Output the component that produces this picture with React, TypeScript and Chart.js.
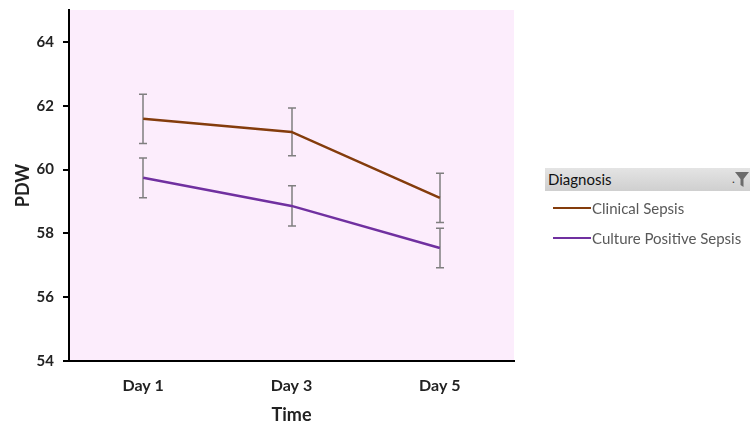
import React, { useEffect, useRef } from "react";
import { Chart, registerables } from "chart.js";

Chart.register(...registerables);

const categories = ["Day 1", "Day 3", "Day 5"];
const clinicalMean = [61.59, 61.18, 59.11];
const clinicalErr = [0.77, 0.75, 0.77];
const cultureMean = [59.74, 58.86, 57.54];
const cultureErr = [0.62, 0.63, 0.62];
const seriesNames = ["Clinical Sepsis", "Culture Positive Sepsis"];
const seriesColors = ["#843C0C", "#7030A0"];
const yTicks = [54, 56, 58, 60, 62, 64];

const FONT = "Lato, 'Open Sans', sans-serif";

export default function App() {
  const ref = useRef<HTMLCanvasElement | null>(null);

  useEffect(() => {
    if (!ref.current) return;
    const bgPlugin = {
      id: "bg",
      beforeDraw(chart: any) {
        const { ctx, chartArea } = chart;
        ctx.save();
        ctx.fillStyle = "#FCEDFC";
        ctx.fillRect(chartArea.left, chartArea.top, chartArea.right - chartArea.left, chartArea.bottom - chartArea.top);
        ctx.restore();
      },
    };
    const errPlugin = {
      id: "errbars",
      beforeDatasetsDraw(chart: any) {
        const { ctx } = chart;
        const xs = chart.scales.x;
        const ys = chart.scales.y;
        const sets = [
          [clinicalMean, clinicalErr],
          [cultureMean, cultureErr],
        ];
        ctx.save();
        ctx.strokeStyle = "#7F7F7F";
        ctx.lineWidth = 1.5;
        sets.forEach(([m, e]) => {
          m.forEach((v: number, i: number) => {
            const x = Math.round(xs.getPixelForValue(i));
            const y1 = ys.getPixelForValue(v + e[i]);
            const y2 = ys.getPixelForValue(v - e[i]);
            ctx.beginPath();
            ctx.moveTo(x, y1);
            ctx.lineTo(x, y2);
            ctx.moveTo(x - 4, y1);
            ctx.lineTo(x + 4, y1);
            ctx.moveTo(x - 4, y2);
            ctx.lineTo(x + 4, y2);
            ctx.stroke();
          });
        });
        ctx.restore();
      },
    };
    const chart = new Chart(ref.current, {
      type: "line",
      data: {
        labels: categories,
        datasets: [
          {
            label: seriesNames[0],
            data: clinicalMean,
            borderColor: seriesColors[0],
            backgroundColor: seriesColors[0],
            borderWidth: 2.5,
            pointRadius: 0,
            tension: 0,
          },
          {
            label: seriesNames[1],
            data: cultureMean,
            borderColor: seriesColors[1],
            backgroundColor: seriesColors[1],
            borderWidth: 2.5,
            pointRadius: 0,
            tension: 0,
          },
        ],
      },
      options: {
        responsive: false,
        animation: false,
        layout: { padding: { top: 10, right: 236, left: 0, bottom: 0 } },
        plugins: { legend: { display: false }, tooltip: { enabled: false } },
        scales: {
          x: {
            offset: true,
            grid: { display: false, drawTicks: false },
            border: { display: true, color: "#000", width: 2 },
            ticks: { color: "#222", font: { family: FONT, size: 16, weight: "bold" }, padding: 15 },
            title: { display: true, text: "Time", color: "#222", font: { family: FONT, size: 18, weight: "bold" }, padding: { top: 4, bottom: 3 } },
            afterFit(scale: any) {
              scale.height = 68;
              scale.paddingLeft = 0;
              scale.paddingRight = 0;
            },
          },
          y: {
            min: 54,
            max: 65,
            afterBuildTicks(scale: any) {
              scale.ticks = yTicks.map((v) => ({ value: v }));
            },
            grid: { display: true, drawOnChartArea: false, drawTicks: true, tickLength: 6, color: "#000", lineWidth: 2 },
            border: { display: true, color: "#000", width: 2 },
            ticks: { color: "#222", font: { family: FONT, size: 15, weight: "bold" }, padding: 9 },
            title: { display: true, text: "PDW", color: "#222", font: { family: FONT, size: 18, weight: "bold" }, padding: { top: 12, bottom: 0 } },
            afterFit(scale: any) {
              scale.width = 69;
              scale.paddingTop = 0;
              scale.paddingBottom = 0;
            },
          },
        },
      },
      plugins: [bgPlugin, errPlugin],
    });
    return () => chart.destroy();
  }, []);

  return (
    <div style={{ position: "fixed", left: 0, top: 0, width: 750, height: 429, background: "#fff", fontFamily: FONT }}>
      <canvas ref={ref} width={750} height={429} style={{ position: "absolute", left: 0, top: 0 }} />
      <div
        style={{
          position: "absolute",
          left: 545,
          top: 168,
          width: 205,
          height: 23,
          background: "linear-gradient(#e4e4e4, #cfcfcf)",
        }}
      >
        <span style={{ position: "absolute", left: 3, top: 2, fontSize: 15, color: "#111" }}>Diagnosis</span>
        <span style={{ position: "absolute", left: 187, top: 3, fontSize: 12, color: "#333" }}>.</span>
        <svg style={{ position: "absolute", left: 190, top: 4 }} width={14} height={16} viewBox="0 0 14 16">
          <path d="M0 0 H14 L8.5 7 V15 L5.5 13 V7 Z" fill="#6b6b6b" />
        </svg>
      </div>
      {seriesNames.map((n, i) => (
        <div key={n} style={{ position: "absolute", left: 553, top: 198 + i * 30, height: 20, display: "flex", alignItems: "center" }}>
          <div style={{ width: 38, height: 2.5, background: seriesColors[i] }} />
          <span style={{ fontSize: 15, color: "#595959", marginLeft: 1 }}>{n}</span>
        </div>
      ))}
    </div>
  );
}
